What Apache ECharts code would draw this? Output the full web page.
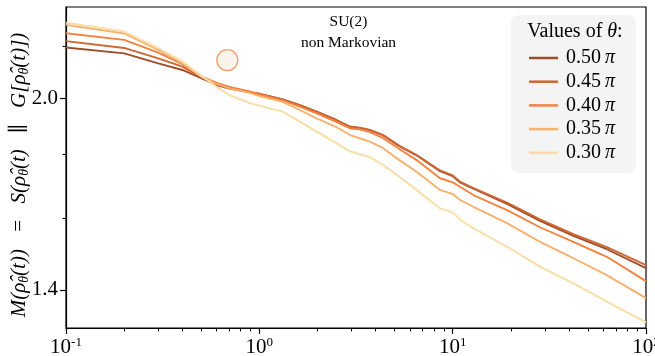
<!DOCTYPE html>
<html>
<head>
<meta charset="utf-8">
<script src="https://cdn.jsdelivr.net/npm/echarts@6/dist/echarts.min.js"></script>
<style>
html,body{margin:0;padding:0;background:#fff;}
#chart{width:655px;height:356px;}
</style>
</head>
<body>
<div id="chart"></div>
<script>
// time values (x)
const tVals = [0.1,0.2,0.3,0.4,0.5,0.6,0.7,0.9,1.0,1.32,1.62,1.98,2.5,2.95,3.3,3.73,4.37,5.3,6.51,8.6,10,10.9,12.8,19.1,28.3,42.1,62.7,100];
// M values per theta
const m050 = [2.197,2.173,2.133,2.107,2.075,2.049,2.035,2.021,2.015,1.995,1.974,1.950,1.920,1.896,1.892,1.884,1.866,1.829,1.798,1.746,1.730,1.710,1.690,1.643,1.592,1.548,1.510,1.458];
const m045 = [2.223,2.195,2.153,2.120,2.080,2.053,2.040,2.022,2.016,1.995,1.974,1.949,1.920,1.896,1.893,1.885,1.867,1.830,1.799,1.748,1.732,1.712,1.692,1.647,1.596,1.553,1.516,1.466];
const m040 = [2.256,2.228,2.176,2.130,2.082,2.058,2.042,2.024,2.013,1.991,1.968,1.944,1.913,1.890,1.887,1.877,1.856,1.819,1.782,1.723,1.710,1.696,1.670,1.624,1.573,1.531,1.489,1.423];
const m035 = [2.291,2.255,2.187,2.134,2.082,2.053,2.036,2.018,2.007,1.986,1.956,1.926,1.895,1.867,1.856,1.844,1.822,1.782,1.744,1.686,1.673,1.655,1.634,1.585,1.531,1.485,1.439,1.379];
const m030 = [2.300,2.263,2.194,2.140,2.085,2.042,2.011,1.980,1.972,1.950,1.914,1.879,1.839,1.811,1.802,1.792,1.766,1.728,1.686,1.629,1.617,1.596,1.570,1.517,1.462,1.417,1.370,1.318];
const seriesNames = ['0.50 π','0.45 π','0.40 π','0.35 π','0.30 π'];
const seriesValues = [m050, m045, m040, m035, m030];
const seriesColors = ['#a14d2a','#cf6530','#f4823f','#f8b06e','#f8dda5'];
// marker circle
const markerT = [0.683];
const markerM = [2.146];
// axis ticks
const xMajor = [0.1, 1, 10, 100];
const xMinor = [0.2,0.3,0.4,0.5,0.6,0.7,0.8,0.9,2,3,4,5,6,7,8,9,20,30,40,50,60,70,80,90];
const yMajor = [1.4, 2.0];
const yMinor = [1.6, 1.8, 2.2];
const xMin = 0.1, xMax = 100, yMin = 1.3044, yMax = 2.3686;

const FONT = '"Liberation Serif", "DejaVu Serif", serif';
const chart = echarts.init(document.getElementById('chart'), null, {renderer:'canvas'});

const axisLineStyle = {color:'#000', width:1.2};

const series = seriesNames.map((name, i) => ({
  name: name,
  type: 'line',
  xAxisIndex: 0,
  yAxisIndex: 0,
  data: tVals.map((t, j) => [t, seriesValues[i][j]]),
  symbol: 'none',
  lineStyle: {width: 1.9, color: seriesColors[i]},
  itemStyle: {color: seriesColors[i]},
  z: 2 + i,
  animation: false
}));
series.push({
  name: 'marker',
  type: 'scatter',
  xAxisIndex: 0,
  yAxisIndex: 0,
  data: markerT.map((t, j) => [t, markerM[j]]),
  symbol: 'circle',
  symbolSize: 21,
  itemStyle: {color: '#fdf0e8', borderColor: '#f5854a', borderWidth: 1.3},
  z: 10,
  silent: true,
  animation: false
});

const option = {
  animation: false,
  backgroundColor: '#fff',
  grid: {left: 66, right: 9, top: 7, bottom: 28, show: true, borderColor: '#000', borderWidth: 1.2,
         backgroundColor: 'transparent', containLabel: false, outerBoundsMode: 'none'},
  xAxis: [
    {
      type: 'log', logBase: 10, min: xMin, max: xMax, position: 'bottom',
      axisLine: {show: true, lineStyle: axisLineStyle},
      axisTick: {show: true, length: 6, lineStyle: axisLineStyle, customValues: xMajor},
      axisLabel: {
        show: true, margin: 8, customValues: xMajor, hideOverlap: false,
        formatter: function (v) { return '{b|10}{s|' + Math.round(Math.log10(v)) + '}'; },
        rich: {
          b: {fontFamily: FONT, fontSize: 21, color: '#000', lineHeight: 22},
          s: {fontFamily: FONT, fontSize: 13, color: '#000', verticalAlign: 'top', lineHeight: 22}
        }
      },
      splitLine: {show: false}, minorTick: {show: false}
    },
    {
      type: 'log', logBase: 10, min: xMin, max: xMax, position: 'bottom',
      axisLine: {show: false},
      axisTick: {show: true, length: 3.5, lineStyle: {color: '#000', width: 1}, customValues: xMinor},
      axisLabel: {show: false},
      splitLine: {show: false}
    }
  ],
  yAxis: [
    {
      type: 'log', logBase: 10, min: yMin, max: yMax, position: 'left',
      axisLine: {show: true, lineStyle: axisLineStyle},
      axisTick: {show: true, length: 6, lineStyle: axisLineStyle, customValues: yMajor},
      axisLabel: {
        show: true, margin: 8, customValues: yMajor,
        formatter: function (v) { return v.toFixed(1); },
        fontFamily: FONT, fontSize: 21, color: '#000'
      },
      splitLine: {show: false}
    },
    {
      type: 'log', logBase: 10, min: yMin, max: yMax, position: 'left',
      axisLine: {show: false},
      axisTick: {show: true, length: 3.5, lineStyle: {color: '#000', width: 1}, customValues: yMinor},
      axisLabel: {show: false},
      splitLine: {show: false}
    }
  ],
  legend: {
    orient: 'vertical', left: 529, top: 48, padding: 0,
    itemWidth: 29, itemHeight: 2.5, itemGap: 3.7, icon: 'rect',
    data: seriesNames,
    formatter: function (name) {
      const parts = name.split(' ');
      return '{n|' + parts[0] + '}{p|\u2009' + parts[1] + '}';
    },
    textStyle: {
      fontFamily: FONT, fontSize: 20, color: '#000', lineHeight: 20,
      rich: {
        n: {fontFamily: FONT, fontSize: 20, color: '#000', lineHeight: 20, padding: [0, 0, 0, 3]},
        p: {fontFamily: FONT, fontSize: 20, color: '#000', lineHeight: 20, fontStyle: 'italic'}
      }
    },
    z: 5
  },
  graphic: [
    {type: 'rect', left: 511, top: 15, z: 3, shape: {width: 125, height: 158, r: 8}, style: {fill: '#f4f4f4', stroke: 'none'}},
    {type: 'text', x: 575, y: 32, z: 6, style: {
      text: 'Values of {i|θ}:', fontFamily: FONT, fontSize: 20, fill: '#000', align: 'center', verticalAlign: 'middle',
      rich: {i: {fontFamily: FONT, fontSize: 20, fontStyle: 'italic', fill: '#000'}}
    }},
    {type: 'text', x: 348.5, y: 22, z: 6, style: {text: 'SU(2)', fontFamily: FONT, fontSize: 15.5, fill: '#000', align: 'center', verticalAlign: 'middle'}},
    {type: 'text', x: 348.5, y: 43, z: 6, style: {text: 'non Markovian', fontFamily: FONT, fontSize: 15.5, fill: '#000', align: 'center', verticalAlign: 'middle'}},
    {type: 'text', x: 19, y: 175, rotation: Math.PI / 2, z: 6, style: {
      text: 'M(ρ̂{s|θ}(t))   =   S(ρ̂{s|θ}(t)   ∥   G[ρ̂{s|θ}(t)])',
      fontFamily: FONT, fontSize: 21, fontStyle: 'italic', fill: '#000', align: 'center', verticalAlign: 'middle',
      rich: {s: {fontFamily: FONT, fontSize: 14, fontStyle: 'italic', fill: '#000', verticalAlign: 'bottom', lineHeight: 24}}
    }}
  ],
  series: series
};
chart.setOption(option);
</script>
</body>
</html>
